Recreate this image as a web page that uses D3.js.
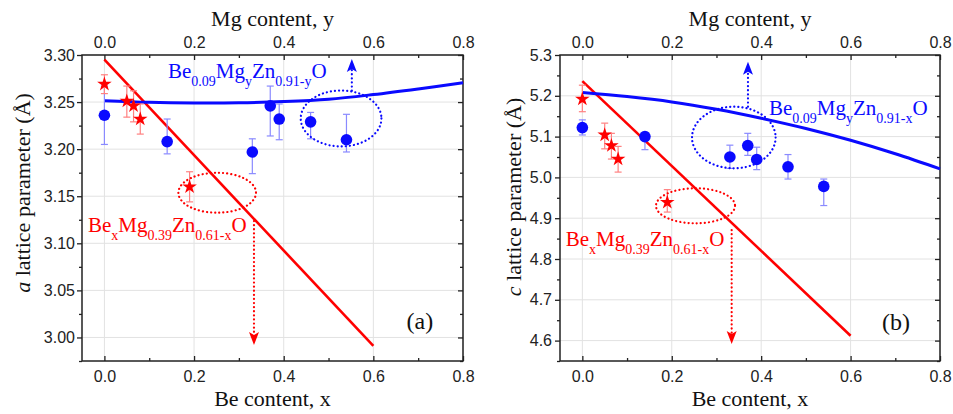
<!DOCTYPE html>
<html>
<head>
<meta charset="utf-8">
<script src="https://cdn.jsdelivr.net/npm/d3@7"></script>
<style>
  body { margin: 0; background: #fff; }
  svg { display: block; }
</style>
</head>
<body>
<script>
// ---- data ----
const xTicks = [0, 0.2, 0.4, 0.6, 0.8];
const xMinor = [0.1, 0.3, 0.5, 0.7];
const aTicks = [3.00, 3.05, 3.10, 3.15, 3.20, 3.25, 3.30];
const aMinor = [2.975, 3.025, 3.075, 3.125, 3.175, 3.225, 3.275];
const cTicks = [4.6, 4.7, 4.8, 4.9, 5.0, 5.1, 5.2, 5.3];
const cMinor = [4.55, 4.65, 4.75, 4.85, 4.95, 5.05, 5.15, 5.25];

// Be0.09MgyZn0.91-yO samples (blue circles, Mg content y)
const mgY   = [0, 0.14, 0.33, 0.37, 0.39, 0.46, 0.54];
const aMg   = [3.236, 3.208, 3.197, 3.246, 3.232, 3.229, 3.210];
const aMgLo = [3.205, 3.195, 3.174, 3.214, 3.210, 3.211, 3.197];
const aMgHi = [3.267, 3.232, 3.211, 3.267, 3.248, 3.239, 3.237];
const cMg   = [5.122, 5.100, 5.050, 5.078, 5.044, 5.026, 4.978];
const cMgLo = [5.104, 5.068, 5.022, 5.054, 5.019, 4.996, 4.931];
const cMgHi = [5.141, 5.110, 5.079, 5.108, 5.074, 5.056, 4.996];

// BexMg0.39Zn0.61-xO samples (red stars, Be content x)
const beX   = [0, 0.05, 0.065, 0.08, 0.19];
const aBe   = [3.269, 3.251, 3.246, 3.232, 3.160];
const aBeLo = [3.259, 3.234, 3.229, 3.216, 3.144];
const aBeHi = [3.279, 3.267, 3.262, 3.248, 3.176];
const cBe   = [5.192, 5.104, 5.078, 5.045, 4.939];
const cBeLo = [5.161, 5.070, 5.045, 5.013, 4.915];
const cBeHi = [5.226, 5.133, 5.108, 5.076, 4.970];

// fitted curves
const beFitX = [0, 0.6];
const aBeFit = [3.295, 2.991];
const cBeFit = [5.236, 4.612];
const mgFitX = [0, 0.1, 0.2, 0.3, 0.4, 0.5, 0.6, 0.7, 0.8];
const aMgFit = [3.2515, 3.2497, 3.2490, 3.2492, 3.2505, 3.2530, 3.2580, 3.2640, 3.2705];
const cMgFit = [5.208, 5.198, 5.185, 5.167, 5.145, 5.120, 5.091, 5.058, 5.021];

const width = 953, height = 414;
const BLUE = "#0a0aff", RED = "#ff0000";
const serif = "'Liberation Serif','Times New Roman',serif";
const sans = "'Liberation Sans',Arial,sans-serif";

const svg = d3.select("body").append("svg")
  .attr("width", width).attr("height", height);
svg.append("rect").attr("width", width).attr("height", height).attr("fill", "#fff");

function dotted(sel, color) {
  return sel.attr("fill", "none").attr("stroke", color)
    .attr("stroke-width", 2.2).attr("stroke-linecap", "round")
    .attr("stroke-dasharray", "0.1 4");
}

function formula(g, x, y, parts, color) {
  // parts: [text, isSub]
  const t = g.append("text").attr("x", x).attr("y", y)
    .attr("font-family", serif).attr("font-size", 21).attr("fill", color);
  let down = false;
  parts.forEach(p => {
    const sp = t.append("tspan").text(p[0]);
    if (p[1] && !down) { sp.attr("dy", 8).attr("font-size", 14); down = true; }
    else if (p[1]) { sp.attr("font-size", 14); }
    else if (down) { sp.attr("dy", -8); down = false; }
  });
}

function drawPanel(cfg) {
  const g = svg.append("g");
  const x = d3.scaleLinear().domain([-0.05, 0.8]).range([cfg.left, cfg.right]);
  const y = d3.scaleLinear().domain(cfg.yDomain).range([cfg.bottom, cfg.top]);
  const fmtY = d3.format(cfg.yFmt);

  // grid
  g.append("g").selectAll("line").data(xTicks).join("line")
    .attr("x1", d => x(d)).attr("x2", d => x(d))
    .attr("y1", cfg.top).attr("y2", cfg.bottom)
    .attr("stroke", "#e2e2e2").attr("stroke-width", 1);
  g.append("g").selectAll("line").data(cfg.yTicks).join("line")
    .attr("y1", d => y(d)).attr("y2", d => y(d))
    .attr("x1", cfg.left).attr("x2", cfg.right)
    .attr("stroke", "#e2e2e2").attr("stroke-width", 1);

  // axes
  const axCol = "#222";
  function styleAxis(sel) {
    sel.select(".domain").remove();
    sel.selectAll("line").attr("stroke", axCol).attr("stroke-width", 1.3);
    sel.selectAll("text").attr("font-family", sans).attr("font-size", 16).attr("fill", axCol);
  }
  g.append("g").attr("transform", `translate(0,${cfg.bottom})`)
    .call(d3.axisBottom(x).tickValues(xTicks).tickSize(-5).tickPadding(10).tickFormat(d3.format(".1f")))
    .call(styleAxis);
  g.append("g").attr("transform", `translate(0,${cfg.bottom})`)
    .call(d3.axisBottom(x).tickValues(xMinor).tickSize(-3).tickFormat(""))
    .call(styleAxis);
  g.append("g").attr("transform", `translate(0,${cfg.top})`)
    .call(d3.axisTop(x).tickValues(xTicks).tickSize(-5).tickPadding(7).tickFormat(d3.format(".1f")))
    .call(styleAxis);
  g.append("g").attr("transform", `translate(0,${cfg.top})`)
    .call(d3.axisTop(x).tickValues(xMinor).tickSize(-3).tickFormat(""))
    .call(styleAxis);
  g.append("g").attr("transform", `translate(${cfg.left},0)`)
    .call(d3.axisLeft(y).tickValues(cfg.yTicks).tickSize(5).tickPadding(cfg.yPad).tickFormat(fmtY))
    .call(styleAxis);
  g.append("g").attr("transform", `translate(${cfg.left},0)`)
    .call(d3.axisLeft(y).tickValues(cfg.yMinor).tickSize(3).tickFormat(""))
    .call(styleAxis);
  g.append("g").attr("transform", `translate(${cfg.right},0)`)
    .call(d3.axisRight(y).tickValues(cfg.yTicks).tickSize(-5).tickFormat(""))
    .call(styleAxis);
  g.append("g").attr("transform", `translate(${cfg.right},0)`)
    .call(d3.axisRight(y).tickValues(cfg.yMinor).tickSize(-3).tickFormat(""))
    .call(styleAxis);
  g.append("rect").attr("x", cfg.left).attr("y", cfg.top)
    .attr("width", cfg.right - cfg.left).attr("height", cfg.bottom - cfg.top)
    .attr("fill", "none").attr("stroke", axCol).attr("stroke-width", 1.5);

  // axis titles
  const cx = (cfg.left + cfg.right) / 2;
  g.append("text").attr("x", cx).attr("y", 26).attr("text-anchor", "middle")
    .attr("font-family", serif).attr("font-size", 22).attr("fill", "#111").text("Mg content, y");
  g.append("text").attr("x", cx).attr("y", 406).attr("text-anchor", "middle")
    .attr("font-family", serif).attr("font-size", 22).attr("fill", "#111").text("Be content, x");
  const yl = g.append("text")
    .attr("transform", `translate(${cfg.yLabelX},${cfg.yLabelY}) rotate(-90)`)
    .attr("text-anchor", "middle").attr("font-family", serif).attr("font-size", 22).attr("fill", "#111");
  yl.append("tspan").attr("font-style", "italic").text(cfg.yVar);
  yl.append("tspan").text(" lattice parameter (Å)");

  // fitted lines
  const line = d3.line().x(d => x(d[0])).y(d => y(d[1]));
  g.append("path").datum(beFitX.map((v, i) => [v, cfg.beFit[i]]))
    .attr("d", line).attr("fill", "none").attr("stroke", RED).attr("stroke-width", 2.6);
  g.append("path").datum(mgFitX.map((v, i) => [v, cfg.mgFit[i]]))
    .attr("d", line.curve(d3.curveCatmullRom)).attr("fill", "none").attr("stroke", BLUE).attr("stroke-width", 3);

  // error bars
  function errBars(xs, lo, hi, color) {
    const eb = g.append("g").attr("stroke", color).attr("stroke-width", 1.2);
    xs.forEach((v, i) => {
      eb.append("line").attr("x1", x(v)).attr("x2", x(v)).attr("y1", y(lo[i])).attr("y2", y(hi[i]));
      [lo[i], hi[i]].forEach(e => eb.append("line")
        .attr("x1", x(v) - 3.5).attr("x2", x(v) + 3.5).attr("y1", y(e)).attr("y2", y(e)));
    });
  }
  errBars(mgY, cfg.mgLo, cfg.mgHi, "#8a8aff");
  errBars(beX, cfg.beLo, cfg.beHi, "#ff8080");

  // markers
  g.append("g").selectAll("circle").data(mgY.map((v, i) => [v, cfg.mg[i]])).join("circle")
    .attr("cx", d => x(d[0])).attr("cy", d => y(d[1])).attr("r", 5.8).attr("fill", BLUE);
  const star = d3.symbol().type(d3.symbolStar).size(66);
  g.append("g").selectAll("path").data(beX.map((v, i) => [v, cfg.be[i]])).join("path")
    .attr("d", star).attr("transform", d => `translate(${x(d[0])},${y(d[1])})`).attr("fill", RED);

  // annotations
  const an = cfg.ann;
  dotted(g.append("ellipse"), BLUE)
    .attr("cx", x(an.blueEll[0])).attr("cy", y(an.blueEll[1]))
    .attr("rx", x(an.blueEll[0] + an.blueEll[2]) - x(an.blueEll[0]))
    .attr("ry", y(an.blueEll[1] - an.blueEll[3]) - y(an.blueEll[1]));
  dotted(g.append("ellipse"), RED)
    .attr("cx", x(an.redEll[0])).attr("cy", y(an.redEll[1]))
    .attr("rx", x(an.redEll[0] + an.redEll[2]) - x(an.redEll[0]))
    .attr("ry", y(an.redEll[1] - an.redEll[3]) - y(an.redEll[1]));

  // blue arrow (up)
  const bx = x(an.blueArrow[0]), by0 = y(an.blueArrow[1]), by1 = y(an.blueArrow[2]);
  dotted(g.append("line"), BLUE).attr("x1", bx).attr("x2", bx).attr("y1", by0).attr("y2", by1 + 10);
  g.append("path").attr("fill", BLUE)
    .attr("d", `M${bx},${by1} L${bx - 5},${by1 + 13} L${bx},${by1 + 10} L${bx + 5},${by1 + 13} Z`);
  // red arrow (down)
  const rx = x(an.redArrow[0]), ry0 = y(an.redArrow[1]), ry1 = y(an.redArrow[2]);
  dotted(g.append("line"), RED).attr("x1", rx).attr("x2", rx).attr("y1", ry0).attr("y2", ry1 - 10);
  g.append("path").attr("fill", RED)
    .attr("d", `M${rx},${ry1} L${rx - 5},${ry1 - 13} L${rx},${ry1 - 10} L${rx + 5},${ry1 - 13} Z`);

  formula(g, x(an.blueText[0]), y(an.blueText[1]),
    [["Be"], ["0.09", 1], ["Mg"], ["y", 1], ["Zn"], [an.blueSub, 1], ["O"]], BLUE);
  formula(g, x(an.redText[0]), y(an.redText[1]),
    [["Be"], ["x", 1], ["Mg"], ["0.39", 1], ["Zn"], ["0.61-x", 1], ["O"]], RED);

  g.append("text").attr("x", x(an.tag[0])).attr("y", y(an.tag[1]))
    .attr("font-family", serif).attr("font-size", 24).attr("fill", "#111").text(cfg.tag);
}

drawPanel({
  left: 82, right: 463, top: 55, bottom: 361,
  yDomain: [2.975, 3.30], yTicks: aTicks, yMinor: aMinor, yFmt: ".2f", yPad: 2,
  yLabelX: 30, yLabelY: 193, yVar: "a", tag: "(a)",
  mg: aMg, mgLo: aMgLo, mgHi: aMgHi, be: aBe, beLo: aBeLo, beHi: aBeHi,
  beFit: aBeFit, mgFit: aMgFit,
  ann: {
    blueEll: [0.528, 3.2326, 0.090, 0.0297],
    redEll: [0.2516, 3.1537, 0.0866, 0.0212],
    blueArrow: [0.552, 3.2621, 3.2958],
    redArrow: [0.3337, 3.1237, 2.992],
    blueText: [0.1419, 3.2756], blueSub: "0.91-y",
    redText: [-0.0366, 3.112],
    tag: [0.674, 3.0093]
  }
});

drawPanel({
  left: 560, right: 940, top: 55, bottom: 361,
  yDomain: [4.55, 5.3], yTicks: cTicks, yMinor: cMinor, yFmt: ".1f", yPad: 3,
  yLabelX: 521, yLabelY: 197, yVar: "c", tag: "(b)",
  mg: cMg, mgLo: cMgLo, mgHi: cMgHi, be: cBe, beLo: cBeLo, beHi: cBeHi,
  beFit: cBeFit, mgFit: cMgFit,
  ann: {
    blueEll: [0.3388, 5.0978, 0.0935, 0.0755],
    redEll: [0.2531, 4.9304, 0.0884, 0.0429],
    blueArrow: [0.3705, 5.1733, 5.2836],
    redArrow: [0.334, 4.871, 4.5917],
    blueText: [0.4175, 5.153], blueSub: "0.91-x",
    redText: [-0.0372, 4.832],
    tag: [0.6703, 4.626]
  }
});
</script>
</body>
</html>
